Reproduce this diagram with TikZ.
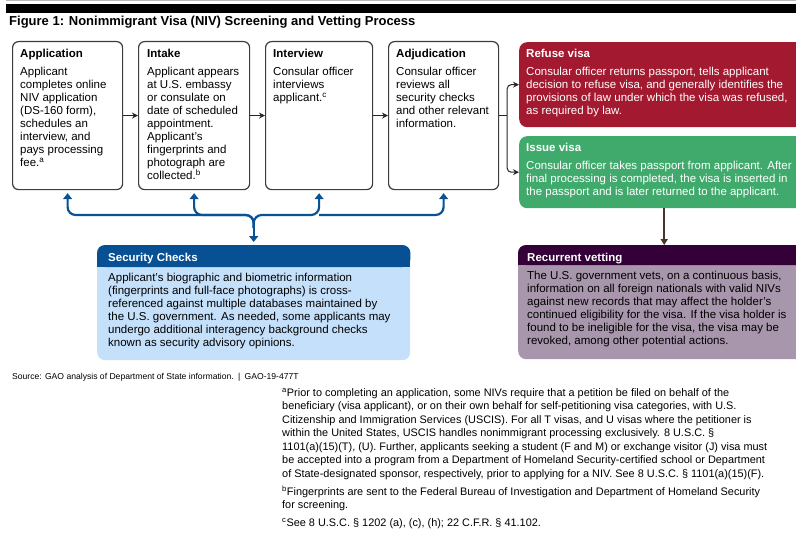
\documentclass[tikz,border=0pt]{standalone}
\usepackage{fontspec}
\setmainfont{Liberation Sans}
\usetikzlibrary{arrows.meta,calc}
\definecolor{refuse}{RGB}{163,25,47}
\definecolor{issue}{RGB}{64,170,108}
\definecolor{rvhead}{RGB}{52,0,56}
\definecolor{rvbody}{RGB}{168,150,172}
\definecolor{schead}{RGB}{8,80,148}
\definecolor{scbody}{RGB}{197,224,250}
\definecolor{conblue}{RGB}{10,82,150}
\definecolor{brownarr}{RGB}{74,52,42}
\definecolor{boxline}{RGB}{60,60,60}
\begin{document}
\begin{tikzpicture}[x=1pt,y=-1pt,
  stepbox/.style={draw=boxline, line width=1.2pt, rounded corners=6pt, fill=white, anchor=north west, inner sep=0pt},
  colbox/.style={rounded corners=8pt, anchor=north west, inner sep=0pt, minimum width=290},
  txt/.style={anchor=north west, inner sep=0pt, align=left, font=\fontsize{11.5}{13}\selectfont},
  flow/.style={draw=black!85, line width=1pt, -{Stealth[length=6pt,width=6pt]}},
  bc/.style={draw=conblue, line width=2.2pt, rounded corners=8pt, -{Triangle[length=6pt,width=9pt]}, shorten >=3pt},
  brarrow/.style={draw=brownarr, line width=1.6pt, -{Triangle[length=6pt,width=7pt]}}
]
\useasboundingbox (0,0) rectangle (796,535);
% top rule and title
\draw[gray!55, line width=1pt] (6,1) -- (796,1);
\fill[black] (6,4) rectangle (796,13);
\node[anchor=north west, inner sep=0pt, font=\fontsize{13}{15}\selectfont\bfseries] (title) at (9,16) {Figure 1: Nonimmigrant Visa (NIV) Screening and Vetting Process};

% process boxes
\node[stepbox, minimum width=110, minimum height=148] (app) at (12,41) {};
\node[stepbox, minimum width=111, minimum height=148] (int) at (138,41) {};
\node[stepbox, minimum width=107, minimum height=148] (iv) at (265,41) {};
\node[stepbox, minimum width=110, minimum height=148] (adj) at (388,41) {};

\node[txt] (appt) at (20,49) {\textbf{Application}\\[5pt]Applicant\\completes online\\NIV application\\(DS-160 form),\\schedules an\\interview, and\\pays processing\\fee.\textsuperscript{a}};
\node[txt] (intt) at (147,49) {\textbf{Intake}\\[5pt]Applicant appears\\at U.S. embassy\\or consulate on\\date of scheduled\\appointment.\\Applicant's\\fingerprints and\\photograph are\\collected.\textsuperscript{b}};
\node[txt] (ivt) at (273,49) {\textbf{Interview}\\[5pt]Consular officer\\interviews\\applicant.\textsuperscript{c}};
\node[txt] (adjt) at (396,49) {\textbf{Adjudication}\\[5pt]Consular officer\\reviews all\\security checks\\and other relevant\\information.};

% decision boxes
\node[colbox, fill=refuse, minimum height=85] (ref) at (519,42) {};
\node[colbox, fill=issue, minimum height=72] (iss) at (519,136) {};
\node[txt, text=white] (reft) at (526,49) {\textbf{Refuse visa}\\[5pt]Consular officer returns passport, tells applicant\\decision to refuse visa, and generally identifies the\\provisions of law under which the visa was refused,\\as required by law.};
\node[txt, text=white] (isst) at (526,143) {\textbf{Issue visa}\\[5pt]Consular officer takes passport from applicant. After\\final processing is completed, the visa is inserted in\\the passport and is later returned to the applicant.};

% recurrent vetting
\node[colbox, fill=rvbody, minimum height=114] (rv) at (518,245) {};
\fill[rvhead, rounded corners=8pt] (rv.north west) rectangle ([yshift=-20pt]rv.north east);
\fill[rvhead] ([yshift=-10pt]rv.north west) rectangle ([yshift=-20pt]rv.north east);
\node[txt] (rvt) at (527,253) {\textcolor{white}{\textbf{Recurrent vetting}}\\[5pt]The U.S. government vets, on a continuous basis,\\information on all foreign nationals with valid NIVs\\against new records that may affect the holder's\\continued eligibility for the visa. If the visa holder is\\found to be ineligible for the visa, the visa may be\\revoked, among other potential actions.};

% security checks
\node[colbox, fill=scbody, minimum width=313, minimum height=115] (sec) at (97,245) {};
\fill[schead, rounded corners=8pt] (sec.north west) rectangle ([yshift=-22pt]sec.north east);
\fill[schead] ([yshift=-10pt]sec.north west) rectangle ([yshift=-22pt]sec.north east);
\node[txt] (sect) at (108,253) {\textcolor{white}{\textbf{Security Checks}}\\[7pt]Applicant's biographic and biometric information\\(fingerprints and full-face photographs) is cross-\\referenced against multiple databases maintained by\\the U.S. government. As needed, some applicants may\\undergo additional interagency background checks\\known as security advisory opinions.};

% flow arrows
\draw[flow] (app.east) -- (int.west);
\draw[flow] (int.east) -- (iv.west);
\draw[flow] (iv.east) -- (adj.west);
\draw[draw=black!85, line width=1pt] (adj.east) -- ++(8,0) coordinate (fk);
\draw[flow, rounded corners=4pt] (fk) |- (ref.west);
\draw[flow, rounded corners=4pt] (fk) |- (iss.west);
\draw[brarrow] (iss.south) -- (iss.south |- rv.north);

% security connectors
\coordinate (hy) at (0,215);
\coordinate (J) at (sec.north |- 0,228);
\draw[bc] (J) -- (sec.north);
\draw[bc] (J) |- (app.south |- hy) -- (app.south);
\draw[bc] (J) |- (int.south |- hy) -- (int.south);
\draw[bc] (J) |- (iv.south |- hy) -- (iv.south);
\draw[bc] (iv.south |- hy) -- (adj.south |- hy) -- (adj.south);

% source and notes
\node[anchor=west, inner sep=0pt, font=\fontsize{8.6}{10}\selectfont] (src) at (12,377) {Source: GAO analysis of Department of State information.\enspace|\enspace GAO-19-477T};
\node[anchor=north west, inner sep=0pt, align=left, font=\fontsize{10.9}{13.5}\selectfont] (notes) at (282,388) {\textsuperscript{a}Prior to completing an application, some NIVs require that a petition be filed on behalf of the\\
beneficiary (visa applicant), or on their own behalf for self-petitioning visa categories, with U.S.\\
Citizenship and Immigration Services (USCIS). For all T visas, and U visas where the petitioner is\\
within the United States, USCIS handles nonimmigrant processing exclusively. 8 U.S.C. §\\
1101(a)(15)(T), (U). Further, applicants seeking a student (F and M) or exchange visitor (J) visa must\\
be accepted into a program from a Department of Homeland Security-certified school or Department\\
of State-designated sponsor, respectively, prior to applying for a NIV. See 8 U.S.C. § 1101(a)(15)(F).\\[4.5pt]
\textsuperscript{b}Fingerprints are sent to the Federal Bureau of Investigation and Department of Homeland Security\\
for screening.\\[4pt]
\textsuperscript{c}See 8 U.S.C. § 1202 (a), (c), (h); 22 C.F.R. § 41.102.};
\end{tikzpicture}
\end{document}
